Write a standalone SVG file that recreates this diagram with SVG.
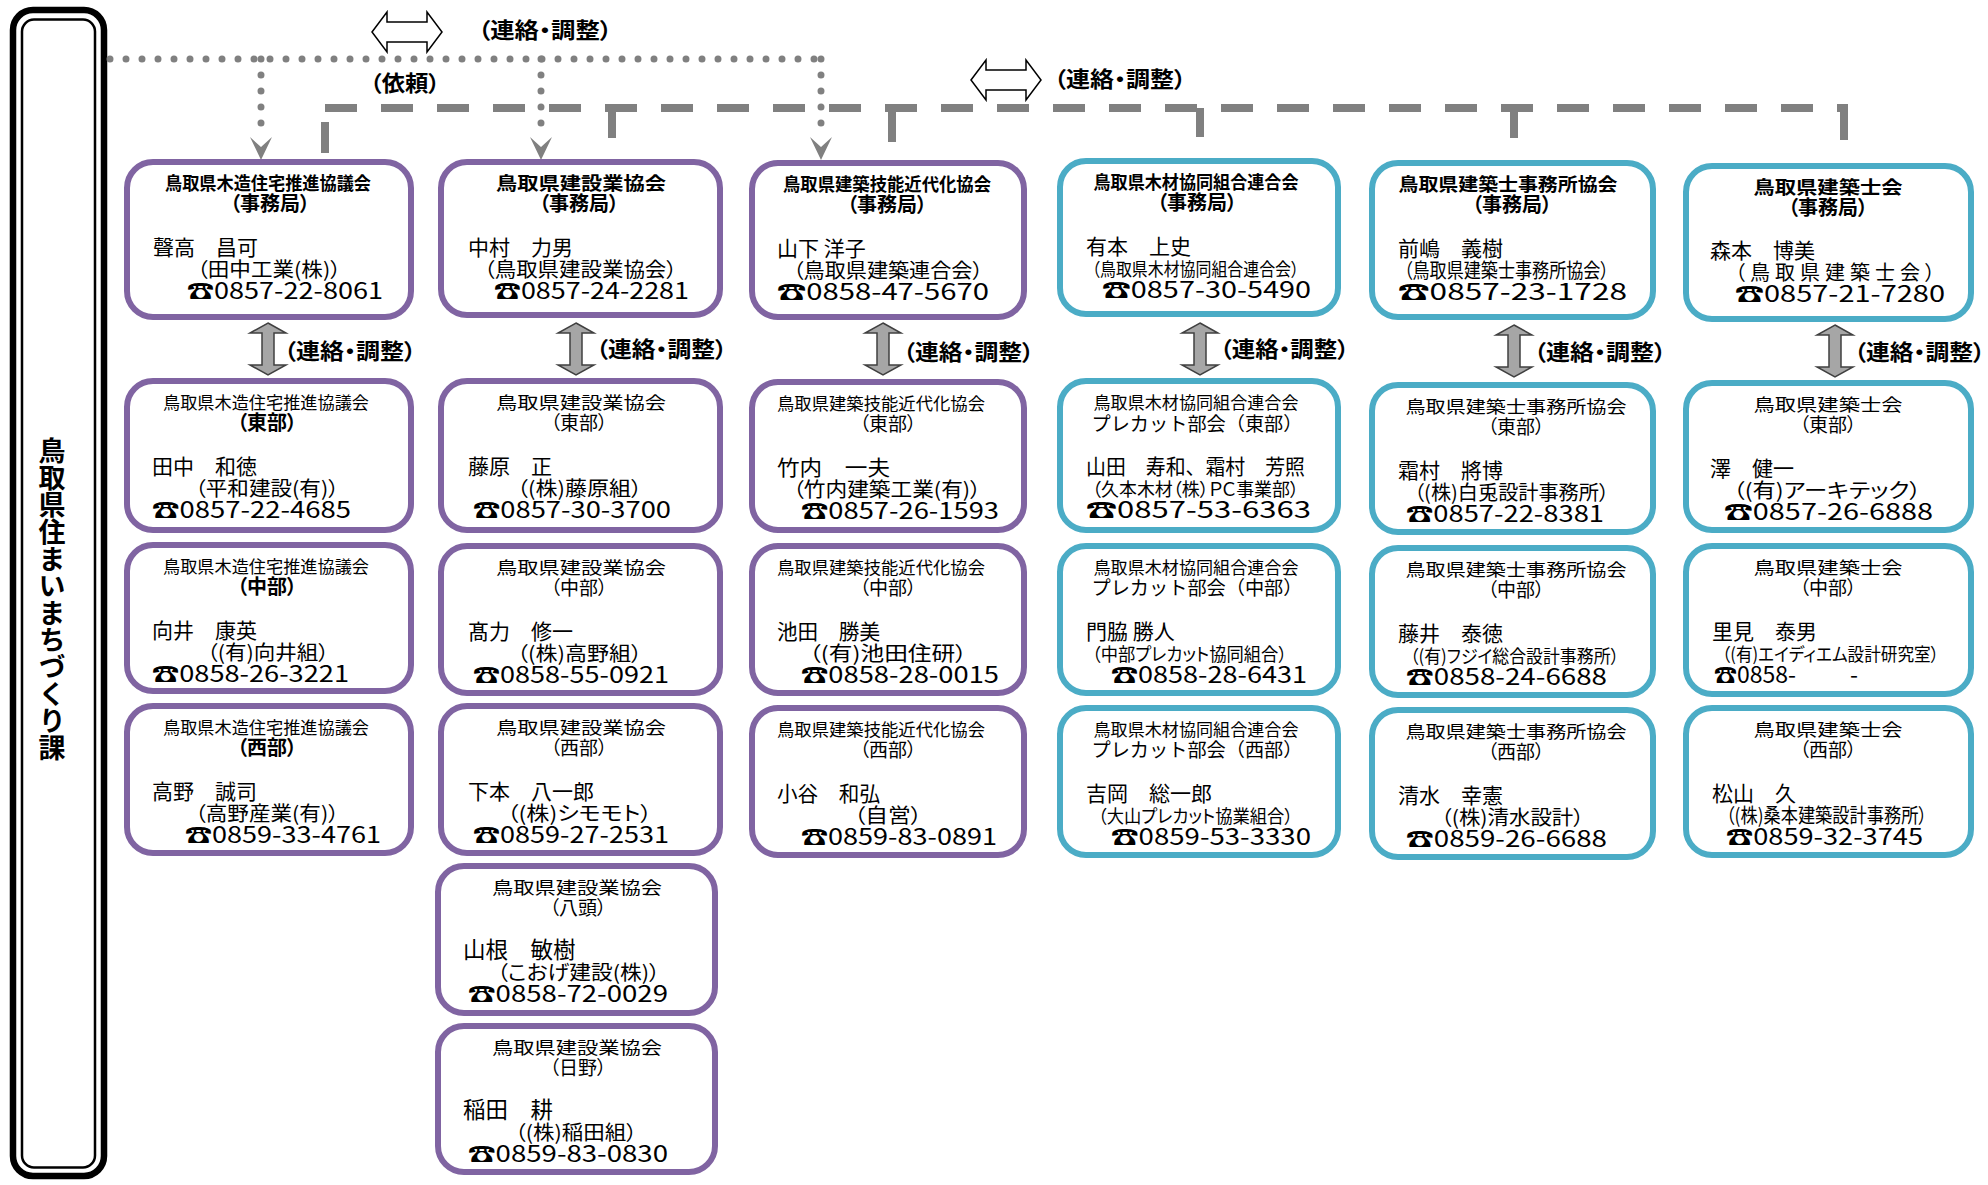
<svg xmlns="http://www.w3.org/2000/svg" width="1988" height="1185" viewBox="0 0 1988 1185">
<defs>
<style>
.bx{fill:#fff;stroke-width:6}
.pu{stroke:#8064A2}
.cy{stroke:#4BACC6}
text{font-family:"Noto Sans CJK JP","Noto Sans CJK SC",sans-serif;fill:#000}
.tb{font-size:18px;font-weight:700;text-anchor:middle}
.tr{font-size:17px;text-anchor:middle}
.sb{font-size:20px;font-weight:700;text-anchor:middle;font-feature-settings:"palt"}
.sr{font-size:19px;text-anchor:middle;font-feature-settings:"palt"}
.nm{font-size:21px}
.co{font-size:20px;font-feature-settings:"palt"}
.cs{font-size:18px;font-feature-settings:"palt"}
.ph{font-size:23px}
.lb{font-size:22px;font-weight:700;font-feature-settings:"palt"}
.dot{fill:none;stroke:#808080;stroke-width:7;stroke-linecap:round;stroke-dasharray:0 16}
.dash{fill:none;stroke:#808080;stroke-width:8}
.ah{fill:#808080}
.va{fill:#A6A6A6;stroke:#404040;stroke-width:1.5;stroke-linejoin:miter}
.ha{fill:#fff;stroke:#000;stroke-width:1.5}
</style>
</defs>

<g id="dept">
<rect x="13" y="10" width="91" height="1166" rx="20" fill="#fff" stroke="#000" stroke-width="6.5"/>
<rect x="22" y="19.5" width="73" height="1148" rx="12" fill="none" stroke="#000" stroke-width="2.5"/>
<text x="52" y="599" style="writing-mode:vertical-rl;font-size:27px;font-weight:700;text-anchor:middle">鳥取県住まいまちづくり課</text>
</g>

<g id="connectors">
<path class="dot" d="M110,59 H823"/>
<path class="dot" d="M261,59 V138"/>
<path class="dot" d="M541,59 V138"/>
<path class="dot" d="M821,59 V138"/>
<path class="ah" d="M250,137 L261,147 L272,137 L261,160 Z"/>
<path class="ah" d="M530,137 L541,147 L552,137 L541,160 Z"/>
<path class="ah" d="M810,137 L821,147 L832,137 L821,160 Z"/>
<path class="ha" d="M372,32 L387,12 L387,22 L427,22 L427,12 L442,32 L427,52 L427,42 L387,42 L387,52 Z"/>
<text class="lb" x="478" y="38" textLength="134" lengthAdjust="spacingAndGlyphs">（連絡・調整）</text>
<text class="lb" x="370" y="91" textLength="70" lengthAdjust="spacingAndGlyphs">（依頼）</text>
<path class="dash" d="M325,108 H1848" stroke-dasharray="32 24"/>
<path class="dash" d="M325,122 V153"/>
<path class="dash" d="M612,108 V138"/>
<path class="dash" d="M892,108 V142"/>
<path class="dash" d="M1200,108 V137"/>
<path class="dash" d="M1514,108 V138"/>
<path class="dash" d="M1844,104 V140"/>
<path class="ha" d="M971,80 L986,60 L986,70 L1026,70 L1026,60 L1041,80 L1026,100 L1026,90 L986,90 L986,100 Z"/>
<text class="lb" x="1054" y="87" textLength="132" lengthAdjust="spacingAndGlyphs">（連絡・調整）</text>
<path class="va" d="M268,323 L286,333 L274,333 L274,365 L286,365 L268,375 L250,365 L262,365 L262,333 L250,333 Z"/>
<text class="lb" x="284" y="359" textLength="132" lengthAdjust="spacingAndGlyphs">（連絡・調整）</text>
<path class="va" d="M576,323 L594,333 L582,333 L582,365 L594,365 L576,375 L558,365 L570,365 L570,333 L558,333 Z"/>
<text class="lb" x="596" y="357" textLength="131" lengthAdjust="spacingAndGlyphs">（連絡・調整）</text>
<path class="va" d="M883,323 L901,333 L889,333 L889,365 L901,365 L883,375 L865,365 L877,365 L877,333 L865,333 Z"/>
<text class="lb" x="903" y="360" textLength="131" lengthAdjust="spacingAndGlyphs">（連絡・調整）</text>
<path class="va" d="M1200,323 L1218,333 L1206,333 L1206,365 L1218,365 L1200,375 L1182,365 L1194,365 L1194,333 L1182,333 Z"/>
<text class="lb" x="1220" y="357" textLength="129" lengthAdjust="spacingAndGlyphs">（連絡・調整）</text>
<path class="va" d="M1514,325 L1532,335 L1520,335 L1520,367 L1532,367 L1514,377 L1496,367 L1508,367 L1508,335 L1496,335 Z"/>
<text class="lb" x="1534" y="360" textLength="132" lengthAdjust="spacingAndGlyphs">（連絡・調整）</text>
<path class="va" d="M1835,325 L1853,335 L1841,335 L1841,367 L1853,367 L1835,377 L1817,367 L1829,367 L1829,335 L1817,335 Z"/>
<text class="lb" x="1854" y="360" textLength="131" lengthAdjust="spacingAndGlyphs">（連絡・調整）</text>
</g>

<!-- Column 1 -->
<g id="mokuzou-jimukyoku">
<rect class="bx pu" x="127" y="162" width="284" height="155" rx="26"/>
<text class="tb" x="268" y="190" textLength="206" lengthAdjust="spacingAndGlyphs">鳥取県木造住宅推進協議会</text>
<text class="sb" x="270" y="211">（事務局）</text>
<text class="nm" x="153" y="255">聲高　昌可</text>
<text class="co" x="197" y="277" textLength="144" lengthAdjust="spacingAndGlyphs">（田中工業(株)）</text>
<text class="ph" x="187" y="299" textLength="196" lengthAdjust="spacingAndGlyphs">☎0857-22-8061</text>
</g>
<g id="mokuzou-tobu">
<rect class="bx pu" x="127" y="381" width="284" height="149" rx="26"/>
<text class="tr" x="266" y="409" textLength="206" lengthAdjust="spacingAndGlyphs">鳥取県木造住宅推進協議会</text>
<text class="sb" x="267" y="430">（東部）</text>
<text class="nm" x="152" y="474">田中　和徳</text>
<text class="co" x="195" y="496" textLength="144" lengthAdjust="spacingAndGlyphs">（平和建設(有)）</text>
<text class="ph" x="152" y="518" textLength="199" lengthAdjust="spacingAndGlyphs">☎0857-22-4685</text>
</g>
<g id="mokuzou-chubu">
<rect class="bx pu" x="127" y="545" width="284" height="146" rx="26"/>
<text class="tr" x="266" y="573" textLength="206" lengthAdjust="spacingAndGlyphs">鳥取県木造住宅推進協議会</text>
<text class="sb" x="267" y="594">（中部）</text>
<text class="nm" x="152" y="638">向井　康英</text>
<text class="co" x="207" y="660" textLength="122" lengthAdjust="spacingAndGlyphs">（(有)向井組）</text>
<text class="ph" x="152" y="682" textLength="197" lengthAdjust="spacingAndGlyphs">☎0858-26-3221</text>
</g>
<g id="mokuzou-seibu">
<rect class="bx pu" x="127" y="706" width="284" height="147" rx="26"/>
<text class="tr" x="266" y="734" textLength="206" lengthAdjust="spacingAndGlyphs">鳥取県木造住宅推進協議会</text>
<text class="sb" x="267" y="755">（西部）</text>
<text class="nm" x="152" y="799">高野　誠司</text>
<text class="co" x="195" y="821" textLength="144" lengthAdjust="spacingAndGlyphs">（高野産業(有)）</text>
<text class="ph" x="185" y="843" textLength="196" lengthAdjust="spacingAndGlyphs">☎0859-33-4761</text>
</g>

<!-- Column 2 -->
<g id="kensetsu-jimukyoku">
<rect class="bx pu" x="441" y="162" width="279" height="153" rx="26"/>
<text class="tb" x="581" y="190" textLength="170" lengthAdjust="spacingAndGlyphs">鳥取県建設業協会</text>
<text class="sb" x="579" y="211">（事務局）</text>
<text class="nm" x="468" y="255">中村　力男</text>
<text class="co" x="484" y="277" textLength="193" lengthAdjust="spacingAndGlyphs">（鳥取県建設業協会）</text>
<text class="ph" x="494" y="299" textLength="195" lengthAdjust="spacingAndGlyphs">☎0857-24-2281</text>
</g>
<g id="kensetsu-tobu">
<rect class="bx pu" x="441" y="381" width="279" height="149" rx="26"/>
<text class="tr" x="581" y="409" textLength="170" lengthAdjust="spacingAndGlyphs">鳥取県建設業協会</text>
<text class="sr" x="579" y="430">（東部）</text>
<text class="nm" x="468" y="474">藤原　正</text>
<text class="co" x="517" y="496" textLength="125" lengthAdjust="spacingAndGlyphs">（(株)藤原組）</text>
<text class="ph" x="473" y="518" textLength="198" lengthAdjust="spacingAndGlyphs">☎0857-30-3700</text>
</g>
<g id="kensetsu-chubu">
<rect class="bx pu" x="441" y="546" width="279" height="147" rx="26"/>
<text class="tr" x="581" y="574" textLength="170" lengthAdjust="spacingAndGlyphs">鳥取県建設業協会</text>
<text class="sr" x="579" y="595">（中部）</text>
<text class="nm" x="468" y="639">髙力　修一</text>
<text class="co" x="517" y="661" textLength="125" lengthAdjust="spacingAndGlyphs">（(株)高野組）</text>
<text class="ph" x="473" y="683" textLength="196" lengthAdjust="spacingAndGlyphs">☎0858-55-0921</text>
</g>
<g id="kensetsu-seibu">
<rect class="bx pu" x="441" y="706" width="279" height="147" rx="26"/>
<text class="tr" x="581" y="734" textLength="170" lengthAdjust="spacingAndGlyphs">鳥取県建設業協会</text>
<text class="sr" x="579" y="755">（西部）</text>
<text class="nm" x="468" y="799">下本　八一郎</text>
<text class="co" x="507" y="821" textLength="145" lengthAdjust="spacingAndGlyphs">（(株)シモモト）</text>
<text class="ph" x="473" y="843" textLength="196" lengthAdjust="spacingAndGlyphs">☎0859-27-2531</text>
</g>
<g id="kensetsu-yazu">
<rect class="bx pu" x="438" y="866" width="277" height="147" rx="26"/>
<text class="tr" x="577" y="894" textLength="170" lengthAdjust="spacingAndGlyphs">鳥取県建設業協会</text>
<text class="sr" x="578" y="915">（八頭）</text>
<text class="nm" x="463" y="958" style="font-size:22.5px">山根　敏樹</text>
<text class="co" x="497" y="980" textLength="163" lengthAdjust="spacingAndGlyphs">（こおげ建設(株)）</text>
<text class="ph" x="468" y="1002" textLength="200" lengthAdjust="spacingAndGlyphs">☎0858-72-0029</text>
</g>
<g id="kensetsu-hino">
<rect class="bx pu" x="438" y="1026" width="277" height="146" rx="26"/>
<text class="tr" x="577" y="1054" textLength="170" lengthAdjust="spacingAndGlyphs">鳥取県建設業協会</text>
<text class="sr" x="578" y="1075">（日野）</text>
<text class="nm" x="463" y="1118" style="font-size:22.5px">稲田　耕</text>
<text class="co" x="515" y="1140" textLength="122" lengthAdjust="spacingAndGlyphs">（(株)稲田組）</text>
<text class="ph" x="468" y="1162" textLength="200" lengthAdjust="spacingAndGlyphs">☎0859-83-0830</text>
</g>

<!-- Column 3 -->
<g id="ginou-jimukyoku">
<rect class="bx pu" x="752" y="163" width="272" height="154" rx="26"/>
<text class="tb" x="887" y="191" textLength="208" lengthAdjust="spacingAndGlyphs">鳥取県建築技能近代化協会</text>
<text class="sb" x="887" y="212">（事務局）</text>
<text class="nm" x="777" y="256">山下 洋子</text>
<text class="co" x="793" y="278" textLength="190" lengthAdjust="spacingAndGlyphs">（鳥取県建築連合会）</text>
<text class="ph" x="777" y="300" textLength="212" lengthAdjust="spacingAndGlyphs">☎0858-47-5670</text>
</g>
<g id="ginou-tobu">
<rect class="bx pu" x="752" y="382" width="272" height="148" rx="26"/>
<text class="tr" x="881" y="410" textLength="208" lengthAdjust="spacingAndGlyphs">鳥取県建築技能近代化協会</text>
<text class="sr" x="888" y="431">（東部）</text>
<text class="nm" x="777" y="475" textLength="113" lengthAdjust="spacingAndGlyphs">竹内　一夫</text>
<text class="co" x="793" y="497" textLength="188" lengthAdjust="spacingAndGlyphs">（竹内建築工業(有)）</text>
<text class="ph" x="801" y="519" textLength="198" lengthAdjust="spacingAndGlyphs">☎0857-26-1593</text>
</g>
<g id="ginou-chubu">
<rect class="bx pu" x="752" y="546" width="272" height="147" rx="26"/>
<text class="tr" x="881" y="574" textLength="208" lengthAdjust="spacingAndGlyphs">鳥取県建築技能近代化協会</text>
<text class="sr" x="888" y="595">（中部）</text>
<text class="nm" x="777" y="639" textLength="103" lengthAdjust="spacingAndGlyphs">池田　勝美</text>
<text class="co" x="809" y="661" textLength="158" lengthAdjust="spacingAndGlyphs">（(有)池田住研）</text>
<text class="ph" x="801" y="683" textLength="198" lengthAdjust="spacingAndGlyphs">☎0858-28-0015</text>
</g>
<g id="ginou-seibu">
<rect class="bx pu" x="752" y="708" width="272" height="147" rx="26"/>
<text class="tr" x="881" y="736" textLength="208" lengthAdjust="spacingAndGlyphs">鳥取県建築技能近代化協会</text>
<text class="sr" x="888" y="757">（西部）</text>
<text class="nm" x="777" y="801" textLength="103" lengthAdjust="spacingAndGlyphs">小谷　和弘</text>
<text class="co" x="854" y="823" textLength="68" lengthAdjust="spacingAndGlyphs">（自営）</text>
<text class="ph" x="801" y="845" textLength="196" lengthAdjust="spacingAndGlyphs">☎0859-83-0891</text>
</g>

<!-- Column 4 -->
<g id="mokuzai-jimukyoku">
<rect class="bx cy" x="1060" y="161" width="278" height="153" rx="26"/>
<text class="tb" x="1196" y="189" textLength="205" lengthAdjust="spacingAndGlyphs">鳥取県木材協同組合連合会</text>
<text class="sb" x="1197" y="210">（事務局）</text>
<text class="nm" x="1086" y="254">有本　上史</text>
<text class="cs" x="1092" y="276" textLength="207" lengthAdjust="spacingAndGlyphs">（鳥取県木材協同組合連合会）</text>
<text class="ph" x="1102" y="298" textLength="209" lengthAdjust="spacingAndGlyphs">☎0857-30-5490</text>
</g>
<g id="mokuzai-tobu">
<rect class="bx cy" x="1060" y="381" width="278" height="149" rx="26"/>
<text class="tr" x="1196" y="409" textLength="205" lengthAdjust="spacingAndGlyphs">鳥取県木材協同組合連合会</text>
<text class="tr" x="1197" y="431" textLength="211" lengthAdjust="spacingAndGlyphs" style="font-size:19px">プレカット部会（東部）</text>
<text class="nm" x="1086" y="474" textLength="219" lengthAdjust="spacingAndGlyphs">山田　寿和、霜村　芳照</text>
<text class="cs" x="1092" y="496" textLength="207" lengthAdjust="spacingAndGlyphs">（久本木材（株）ＰＣ事業部）</text>
<text class="ph" x="1086" y="518" textLength="225" lengthAdjust="spacingAndGlyphs">☎0857-53-6363</text>
</g>
<g id="mokuzai-chubu">
<rect class="bx cy" x="1060" y="546" width="278" height="147" rx="26"/>
<text class="tr" x="1196" y="574" textLength="205" lengthAdjust="spacingAndGlyphs">鳥取県木材協同組合連合会</text>
<text class="tr" x="1197" y="595" textLength="211" lengthAdjust="spacingAndGlyphs" style="font-size:19px">プレカット部会（中部）</text>
<text class="nm" x="1086" y="639">門脇 勝人</text>
<text class="cs" x="1092" y="661" textLength="195" lengthAdjust="spacingAndGlyphs">（中部プレカット協同組合）</text>
<text class="ph" x="1111" y="683" textLength="196" lengthAdjust="spacingAndGlyphs">☎0858-28-6431</text>
</g>
<g id="mokuzai-seibu">
<rect class="bx cy" x="1060" y="708" width="278" height="147" rx="26"/>
<text class="tr" x="1196" y="736" textLength="205" lengthAdjust="spacingAndGlyphs">鳥取県木材協同組合連合会</text>
<text class="tr" x="1197" y="757" textLength="211" lengthAdjust="spacingAndGlyphs" style="font-size:19px">プレカット部会（西部）</text>
<text class="nm" x="1086" y="801">吉岡　総一郎</text>
<text class="cs" x="1098" y="823" textLength="195" lengthAdjust="spacingAndGlyphs">（大山プレカット協業組合）</text>
<text class="ph" x="1111" y="845" textLength="200" lengthAdjust="spacingAndGlyphs">☎0859-53-3330</text>
</g>

<!-- Column 5 -->
<g id="jimusho-jimukyoku">
<rect class="bx cy" x="1372" y="163" width="281" height="154" rx="26"/>
<text class="tb" x="1508" y="191" textLength="219" lengthAdjust="spacingAndGlyphs">鳥取県建築士事務所協会</text>
<text class="sb" x="1512" y="212">（事務局）</text>
<text class="nm" x="1398" y="256">前嶋　義樹</text>
<text class="co" x="1404" y="278" textLength="205" lengthAdjust="spacingAndGlyphs">（鳥取県建築士事務所協会）</text>
<text class="ph" x="1398" y="300" textLength="229" lengthAdjust="spacingAndGlyphs">☎0857-23-1728</text>
</g>
<g id="jimusho-tobu">
<rect class="bx cy" x="1372" y="385" width="281" height="147" rx="26"/>
<text class="tr" x="1516" y="413" textLength="221" lengthAdjust="spacingAndGlyphs">鳥取県建築士事務所協会</text>
<text class="sr" x="1516" y="434">（東部）</text>
<text class="nm" x="1398" y="478">霜村　將博</text>
<text class="co" x="1414" y="500" textLength="195" lengthAdjust="spacingAndGlyphs">（(株)白兎設計事務所）</text>
<text class="ph" x="1406" y="522" textLength="198" lengthAdjust="spacingAndGlyphs">☎0857-22-8381</text>
</g>
<g id="jimusho-chubu">
<rect class="bx cy" x="1372" y="548" width="281" height="147" rx="26"/>
<text class="tr" x="1516" y="576" textLength="221" lengthAdjust="spacingAndGlyphs">鳥取県建築士事務所協会</text>
<text class="sr" x="1516" y="597">（中部）</text>
<text class="nm" x="1398" y="641">藤井　泰徳</text>
<text class="cs" x="1410" y="663" textLength="209" lengthAdjust="spacingAndGlyphs">（(有)フジイ総合設計事務所）</text>
<text class="ph" x="1406" y="685" textLength="201" lengthAdjust="spacingAndGlyphs">☎0858-24-6688</text>
</g>
<g id="jimusho-seibu">
<rect class="bx cy" x="1372" y="710" width="281" height="147" rx="26"/>
<text class="tr" x="1516" y="738" textLength="221" lengthAdjust="spacingAndGlyphs">鳥取県建築士事務所協会</text>
<text class="sr" x="1516" y="759">（西部）</text>
<text class="nm" x="1398" y="803">清水　幸憲</text>
<text class="co" x="1441" y="825" textLength="143" lengthAdjust="spacingAndGlyphs">（(株)清水設計）</text>
<text class="ph" x="1406" y="847" textLength="201" lengthAdjust="spacingAndGlyphs">☎0859-26-6688</text>
</g>

<!-- Column 6 -->
<g id="kenchikushikai-jimukyoku">
<rect class="bx cy" x="1686" y="166" width="285" height="153" rx="26"/>
<text class="tb" x="1828" y="194" textLength="149" lengthAdjust="spacingAndGlyphs">鳥取県建築士会</text>
<text class="sb" x="1828" y="215">（事務局）</text>
<text class="nm" x="1710" y="258">森本　博美</text>
<text class="co" x="1735" y="280" textLength="200" lengthAdjust="spacing">（鳥取県建築士会）</text>
<text class="ph" x="1735" y="302" textLength="210" lengthAdjust="spacingAndGlyphs">☎0857-21-7280</text>
</g>
<g id="kenchikushikai-tobu">
<rect class="bx cy" x="1686" y="383" width="285" height="147" rx="26"/>
<text class="tr" x="1828" y="411" textLength="149" lengthAdjust="spacingAndGlyphs">鳥取県建築士会</text>
<text class="sr" x="1828" y="432">（東部）</text>
<text class="nm" x="1710" y="476">澤　健一</text>
<text class="co" x="1733" y="498" textLength="188" lengthAdjust="spacingAndGlyphs">（(有)アーキテック）</text>
<text class="ph" x="1724" y="520" textLength="209" lengthAdjust="spacingAndGlyphs">☎0857-26-6888</text>
</g>
<g id="kenchikushikai-chubu">
<rect class="bx cy" x="1686" y="546" width="285" height="148" rx="26"/>
<text class="tr" x="1828" y="574" textLength="149" lengthAdjust="spacingAndGlyphs">鳥取県建築士会</text>
<text class="sr" x="1828" y="595">（中部）</text>
<text class="nm" x="1712" y="639">里見　泰男</text>
<text class="cs" x="1722" y="661" textLength="217" lengthAdjust="spacingAndGlyphs">（(有)エイディエム設計研究室）</text>
<text class="ph" x="1714" y="683"><tspan>☎0858-</tspan><tspan x="1850">-</tspan></text>
</g>
<g id="kenchikushikai-seibu">
<rect class="bx cy" x="1686" y="708" width="285" height="147" rx="26"/>
<text class="tr" x="1828" y="736" textLength="149" lengthAdjust="spacingAndGlyphs">鳥取県建築士会</text>
<text class="sr" x="1828" y="757">（西部）</text>
<text class="nm" x="1712" y="801">松山　久</text>
<text class="co" x="1726" y="823" textLength="201" lengthAdjust="spacingAndGlyphs">（(株)桑本建築設計事務所）</text>
<text class="ph" x="1726" y="845" textLength="197" lengthAdjust="spacingAndGlyphs">☎0859-32-3745</text>
</g>
</svg>
